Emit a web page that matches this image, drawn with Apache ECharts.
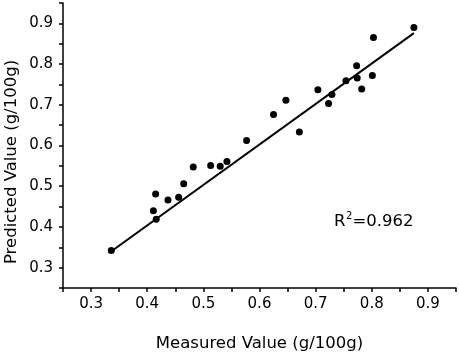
<!DOCTYPE html>
<html><head><meta charset="utf-8">
<script src="https://cdn.jsdelivr.net/npm/echarts@6/dist/echarts.min.js"></script>
<style>html,body{margin:0;padding:0;background:#fff}#c{width:459px;height:357px}</style>
</head><body><div id="c"></div>
<script>
const measured = [0.336,0.411,0.415,0.416,0.437,0.456,0.465,0.482,0.513,0.530,0.542,0.577,0.625,0.647,0.671,0.704,0.723,0.729,0.754,0.773,0.774,0.782,0.801,0.803,0.875];
const predicted = [0.342,0.440,0.481,0.419,0.466,0.473,0.506,0.547,0.551,0.549,0.561,0.612,0.676,0.711,0.633,0.737,0.703,0.725,0.759,0.796,0.766,0.739,0.772,0.865,0.890];
const fitX = [0.335, 0.875];
const fitY = [0.339, 0.876];
const xTitle = 'Measured Value (g/100g)';
const yTitle = 'Predicted Value (g/100g)';
const r2Text = '0.962';

const FONT = '"DejaVu Sans", sans-serif';
const chart = echarts.init(document.getElementById('c'), null, {renderer:'canvas'});
const axisCommon = {
  type:'value', min:0.25, max:0.95, interval:0.05,
  axisLine:{show:true, onZero:false, lineStyle:{color:'#000', width:1.5}},
  axisTick:{show:true, inside:false, length:4, lineStyle:{color:'#000', width:1.5}},
  splitLine:{show:false},
  axisLabel:{color:'#000', fontFamily:FONT, fontSize:15,
    formatter:v => { const k = Math.round(v*100); return (k % 10 === 0) ? (k/100).toFixed(1) : ''; }}
};
chart.setOption({
  animation:false,
  backgroundColor:'#fff',
  grid:{left:63, right:3, top:3, bottom:62, containLabel:false},
  xAxis:Object.assign({}, axisCommon, {
    name:xTitle, nameLocation:'middle', nameGap:47,
    nameTextStyle:{color:'#000', fontFamily:FONT, fontSize:16.5},
    axisLabel:Object.assign({}, axisCommon.axisLabel, {margin:9})
  }),
  yAxis:Object.assign({}, axisCommon, {
    axisLabel:Object.assign({}, axisCommon.axisLabel, {margin:10})
  }),
  graphic:[
    {type:'text', x:11.5, y:162, rotation:Math.PI/2,
     style:{text:yTitle, fill:'#000', font:'16.5px ' + FONT, align:'center', verticalAlign:'middle'}},
    {type:'text', x:334, y:222,
     style:{text:'R', fill:'#000', font:'16.5px ' + FONT, align:'left', verticalAlign:'middle'}},
    {type:'text', x:346, y:216,
     style:{text:'2', fill:'#000', font:'10px ' + FONT, align:'left', verticalAlign:'middle'}},
    {type:'text', x:352.5, y:222,
     style:{text:'=' + r2Text, fill:'#000', font:'16.5px ' + FONT, align:'left', verticalAlign:'middle'}}
  ],
  series:[
    {type:'line', data:fitX.map((x,i)=>[x, fitY[i]]), showSymbol:false, symbol:'none',
     lineStyle:{color:'#000', width:2}, z:2},
    {type:'scatter', data:measured.map((x,i)=>[x, predicted[i]]), symbol:'circle', symbolSize:7,
     itemStyle:{color:'#000', opacity:1}, z:3}
  ]
});
</script></body></html>
